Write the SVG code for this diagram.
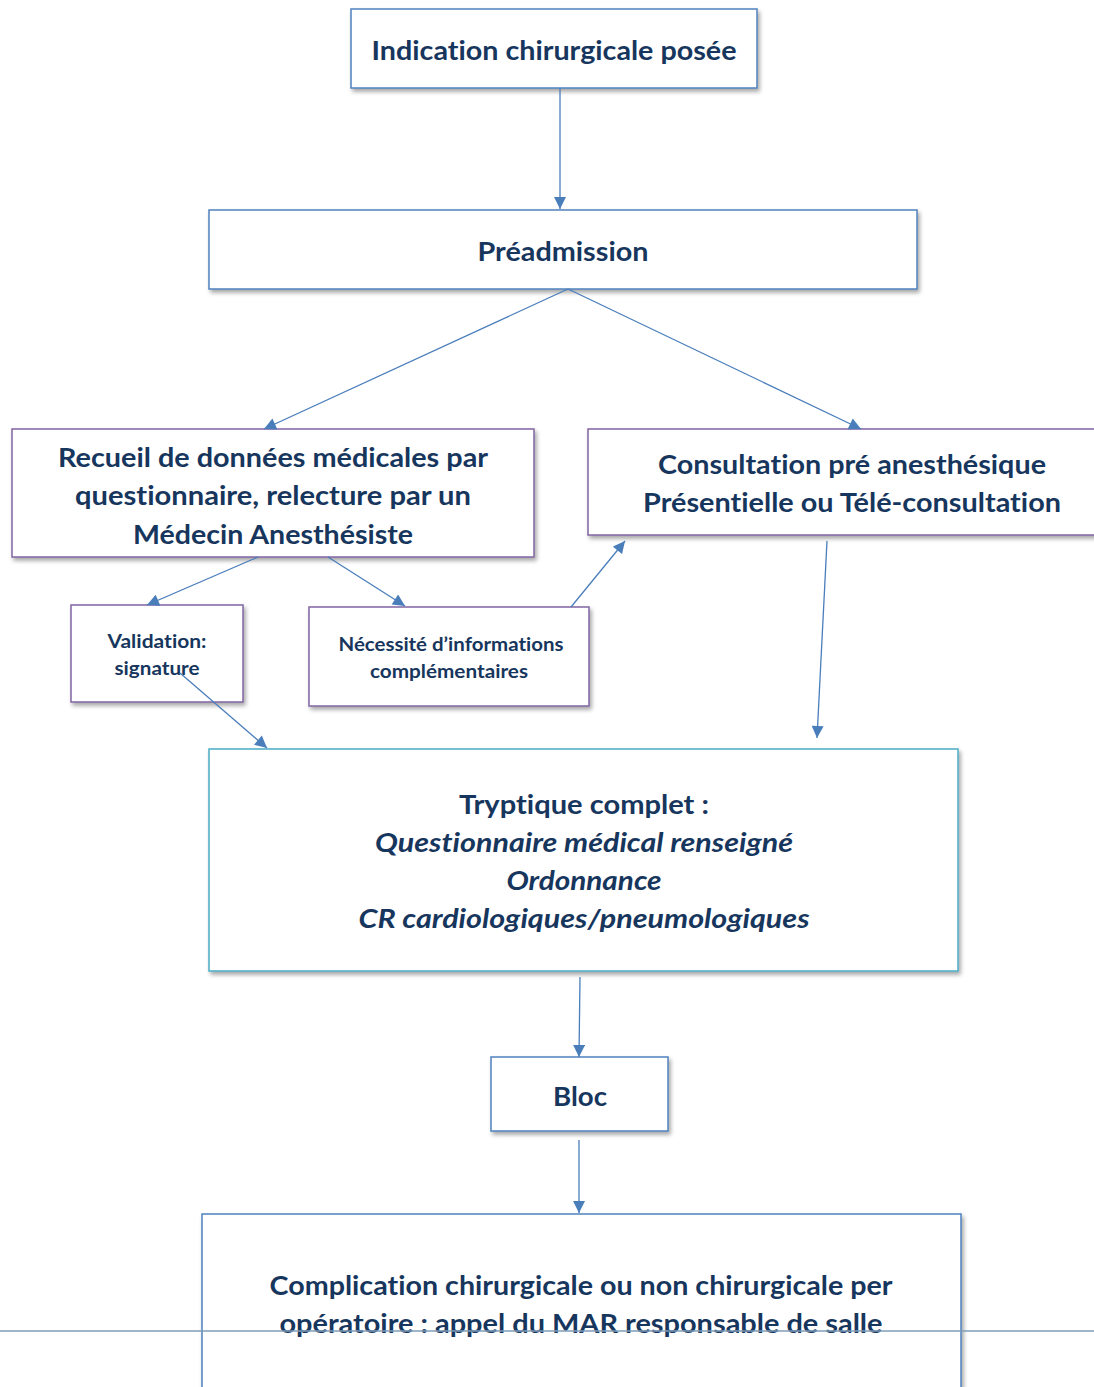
<svg xmlns="http://www.w3.org/2000/svg" width="1094" height="1387" viewBox="0 0 1094 1387">
<defs>
<filter id="sh" x="-5%" y="-5%" width="110%" height="120%">
<feDropShadow dx="2" dy="3" stdDeviation="2" flood-color="#000" flood-opacity="0.35"/>
</filter>
<marker id="ah" viewBox="0 0 10 10" refX="10" refY="5" markerWidth="13" markerHeight="12" markerUnits="userSpaceOnUse" orient="auto">
<path d="M0,0 L10,5 L0,10 z" fill="#4A7EBB"/>
</marker>
</defs>
<style>
.box{fill:#fff;stroke-width:1.5;filter:url(#sh)}
.blue{stroke:#4F81BD}
.purple{stroke:#8064A2}
.teal{stroke:#4BACC6}
text{font-family:Lato,"Open Sans","Liberation Sans",sans-serif;font-weight:bold;fill:#17365D;text-anchor:middle;font-variant-ligatures:none;font-feature-settings:"liga" 0,"clig" 0,"dlig" 0}
.l{font-size:26px}
.s{font-size:18px}
.i{font-style:italic}
.c{stroke:#4A7EBB;stroke-width:1.3;fill:none;marker-end:url(#ah)}
</style>
<rect width="1094" height="1387" fill="#fff"/>

<g id="n-indication">
<rect class="box blue" x="351" y="9" width="406" height="79"/>
<text class="l" x="554" y="60" textLength="365" lengthAdjust="spacingAndGlyphs">Indication chirurgicale posée</text>
</g>
<g id="n-preadmission">
<rect class="box blue" x="209" y="210" width="708" height="79"/>
<text class="l" x="563" y="261" textLength="171" lengthAdjust="spacingAndGlyphs">Préadmission</text>
</g>
<g id="n-recueil">
<rect class="box purple" x="12" y="429" width="522" height="128"/>
<text class="l" x="273" y="467" textLength="430" lengthAdjust="spacingAndGlyphs">Recueil de données médicales par</text>
<text class="l" x="273" y="505" textLength="396" lengthAdjust="spacingAndGlyphs">questionnaire, relecture par un</text>
<text class="l" x="273" y="544" textLength="280" lengthAdjust="spacingAndGlyphs">Médecin Anesthésiste</text>
</g>
<g id="n-consultation">
<rect class="box purple" x="588" y="429" width="520" height="106"/>
<text class="l" x="852" y="474" textLength="388" lengthAdjust="spacingAndGlyphs">Consultation pré anesthésique</text>
<text class="l" x="852" y="512" textLength="418" lengthAdjust="spacingAndGlyphs">Présentielle ou Télé-consultation</text>
</g>
<g id="n-validation">
<rect class="box purple" x="71" y="605" width="172" height="97"/>
<text class="s" x="157" y="648" textLength="99" lengthAdjust="spacingAndGlyphs">Validation:</text>
<text class="s" x="157" y="675" textLength="85" lengthAdjust="spacingAndGlyphs">signature</text>
</g>
<g id="n-necessite">
<rect class="box purple" x="309" y="607" width="280" height="99"/>
<text class="s" x="451" y="651" textLength="225" lengthAdjust="spacingAndGlyphs">Nécessité d’informations</text>
<text class="s" x="449" y="678" textLength="158" lengthAdjust="spacingAndGlyphs">complémentaires</text>
</g>
<g id="n-tryptique">
<rect class="box teal" x="209" y="749" width="749" height="222"/>
<text class="l" x="584" y="814" textLength="250" lengthAdjust="spacingAndGlyphs">Tryptique complet :</text>
<text class="l i" x="584" y="852" textLength="418" lengthAdjust="spacingAndGlyphs">Questionnaire médical renseigné</text>
<text class="l i" x="584" y="890" textLength="155" lengthAdjust="spacingAndGlyphs">Ordonnance</text>
<text class="l i" x="584" y="928" textLength="451" lengthAdjust="spacingAndGlyphs">CR cardiologiques/pneumologiques</text>
</g>
<g id="n-bloc">
<rect class="box blue" x="491" y="1057" width="177" height="74"/>
<text class="l" x="580" y="1106" textLength="54" lengthAdjust="spacingAndGlyphs">Bloc</text>
</g>
<g id="n-complication">
<rect class="box blue" x="202" y="1214" width="759" height="190"/>
<text class="l" x="581" y="1295" textLength="623" lengthAdjust="spacingAndGlyphs">Complication chirurgicale ou non chirurgicale per</text>
<text class="l" x="581" y="1333" textLength="603" lengthAdjust="spacingAndGlyphs">opératoire : appel du MAR responsable de salle</text>
</g>

<g id="connectors">
<line class="c" x1="560" y1="88" x2="560" y2="209"/>
<line class="c" x1="568" y1="289" x2="264" y2="429"/>
<line class="c" x1="568" y1="289" x2="861" y2="429"/>
<line class="c" x1="258" y1="557" x2="147" y2="605"/>
<line class="c" x1="328" y1="557" x2="405" y2="606"/>
<line class="c" x1="571" y1="607" x2="625" y2="541"/>
<line class="c" x1="827" y1="541" x2="817" y2="738"/>
<line class="c" x1="180" y1="673" x2="267" y2="748"/>
<line class="c" x1="580" y1="977" x2="579" y2="1057"/>
<line class="c" x1="579" y1="1140" x2="579" y2="1213"/>
</g>
<line x1="0" y1="1331" x2="1094" y2="1331" stroke="#7F9DB9" stroke-width="1.3"/>
</svg>
